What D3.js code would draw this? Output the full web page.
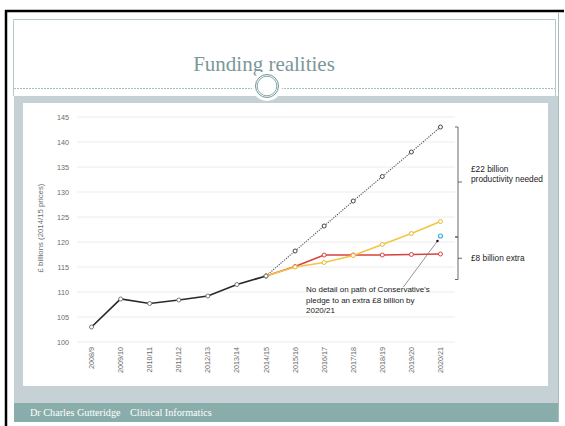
<!DOCTYPE html>
<html>
<head>
<meta charset="utf-8">
<script src="https://cdn.jsdelivr.net/npm/d3@7"></script>
<style>
  body { margin: 0; background: #fff; }
  svg { display: block; }
</style>
</head>
<body>
<svg id="slide" width="565" height="426"></svg>
<script>
var years = ["2008/9", "2009/10", "2010/11", "2011/12", "2012/13", "2013/14", "2014/15",
    "2015/16", "2016/17", "2017/18", "2018/19", "2019/20", "2020/21"];
var actual = [103.0, 108.6, 107.7, 108.4, 109.2, 111.5, 113.2];
var projYears = years.slice(6);
var needed = [113.2, 118.2, 123.2, 128.2, 133.1, 138.0, 143.0];
var extraRed = [113.2, 115.1, 117.4, 117.4, 117.4, 117.5, 117.6];
var extraYellow = [113.2, 115.0, 115.9, 117.3, 119.5, 121.7, 124.1];
var pledgePoint = {year: "2020/21", value: 121.2};
var yTicks = [100, 105, 110, 115, 120, 125, 130, 135, 140, 145];
var brackets = [
    {from: 143.0, to: 121.0, lines: ["£22 billion", "productivity needed"]},
    {from: 121.0, to: 112.5, lines: ["£8 billion extra"]}
];
var noteLines = ["No detail on path of Conservative's", "pledge to an extra £8 billion by", "2020/21"];

var svg = d3.select('#slide');

// slide frame
svg.append('rect').attr('x', 8).attr('y', 12).attr('width', 550).attr('height', 414).attr('fill', '#fff');
svg.append('line').attr('x1', 6).attr('x2', 6).attr('y1', 10).attr('y2', 426)
    .attr('stroke', '#000').attr('stroke-width', 2.5);
svg.append('line').attr('x1', 5).attr('x2', 564).attr('y1', 11).attr('y2', 11)
    .attr('stroke', '#000').attr('stroke-width', 2.5);
svg.append('line').attr('x1', 558.5).attr('x2', 558.5).attr('y1', 12).attr('y2', 422)
    .attr('stroke', '#a9bcbc').attr('stroke-width', 1);
svg.append('path').attr('d', 'M13.5,96V19.5H555.5V96')
    .attr('fill', 'none').attr('stroke', '#b7c8c8').attr('stroke-width', 1);

// grey band + chart panel
svg.append('rect').attr('x', 14).attr('y', 96).attr('width', 544).attr('height', 308).attr('fill', '#c6d1d6');
svg.append('rect').attr('x', 23).attr('y', 103).attr('width', 525).attr('height', 283).attr('fill', '#fff');

// footer
svg.append('rect').attr('x', 14).attr('y', 403).attr('width', 544).attr('height', 19).attr('fill', '#88adab');
svg.append('text').attr('x', 30).attr('y', 416)
    .attr('font-family', 'Liberation Serif, serif').attr('font-size', 10.2).attr('fill', '#fff')
    .text('Dr Charles Gutteridge');
svg.append('text').attr('x', 130).attr('y', 416)
    .attr('font-family', 'Liberation Serif, serif').attr('font-size', 10.2).attr('fill', '#fff')
    .text('Clinical Informatics');

// title and divider
svg.append('text').attr('x', 264).attr('y', 71).attr('text-anchor', 'middle')
    .attr('font-family', 'Liberation Serif, serif').attr('font-size', 21).attr('fill', '#7a9799')
    .text('Funding realities');
svg.append('line').attr('x1', 14).attr('x2', 555).attr('y1', 88.5).attr('y2', 88.5)
    .attr('stroke', '#8fb0b0').attr('stroke-width', 0.8).attr('stroke-dasharray', '2,1');
svg.append('circle').attr('cx', 267).attr('cy', 86).attr('r', 15).attr('fill', '#fff');
svg.append('circle').attr('cx', 267).attr('cy', 86).attr('r', 11.5)
    .attr('fill', '#fff').attr('stroke', '#6f9494').attr('stroke-width', 1);
svg.append('circle').attr('cx', 267).attr('cy', 86).attr('r', 9.8)
    .attr('fill', 'none').attr('stroke', '#6f9494').attr('stroke-width', 0.8);

// chart
var x = d3.scalePoint().domain(years).range([77, 455]).padding(0.5);
var y = d3.scaleLinear().domain([100, 145]).range([342, 117]);

var chart = svg.append('g').attr('class', 'chart');

chart.selectAll('line.grid').data(yTicks).enter().append('line')
    .attr('class', 'grid')
    .attr('x1', 77).attr('x2', 455)
    .attr('y1', function (d) { return y(d); })
    .attr('y2', function (d) { return y(d); })
    .attr('stroke', '#ececec').attr('stroke-width', 1);

chart.selectAll('text.ytick').data(yTicks).enter().append('text')
    .attr('class', 'ytick')
    .attr('x', 69)
    .attr('y', function (d) { return y(d) + 2.5; })
    .attr('text-anchor', 'end')
    .attr('font-family', 'Liberation Sans, Arial, sans-serif').attr('font-size', 7.2)
    .attr('fill', '#6a6a6a')
    .text(function (d) { return d; });

chart.selectAll('text.xtick').data(years).enter().append('text')
    .attr('class', 'xtick')
    .attr('transform', function (d) { return 'translate(' + (x(d) + 2.5) + ',347) rotate(-90)'; })
    .attr('text-anchor', 'end')
    .attr('font-family', 'Liberation Sans, Arial, sans-serif').attr('font-size', 7.2)
    .attr('fill', '#6a6a6a')
    .text(function (d) { return d; });

chart.append('text')
    .attr('transform', 'translate(43,228) rotate(-90)')
    .attr('text-anchor', 'middle')
    .attr('font-family', 'Liberation Sans, Arial, sans-serif').attr('font-size', 7.8)
    .attr('fill', '#6a6a6a')
    .text('£ billions (2014/15 prices)');

var line = d3.line()
    .x(function (d) { return x(d[0]); })
    .y(function (d) { return y(d[1]); });

function series(cats, vals, color, width, dash, ptColor) {
    var pts = cats.map(function (c, i) { return [c, vals[i]]; });
    chart.append('path').datum(pts)
        .attr('d', line)
        .attr('fill', 'none')
        .attr('stroke', color)
        .attr('stroke-width', width)
        .attr('stroke-dasharray', dash);
    chart.selectAll(null).data(pts).enter().append('circle')
        .attr('cx', function (d) { return x(d[0]); })
        .attr('cy', function (d) { return y(d[1]); })
        .attr('r', 2)
        .attr('fill', '#fff')
        .attr('stroke', ptColor)
        .attr('stroke-width', 1);
}

series(projYears, needed, '#555', 1.1, '1.2,1.2', '#444');
series(projYears, extraRed, '#d8413f', 1.6, null, '#d8413f');
series(projYears, extraYellow, '#f4c443', 1.6, null, '#e9b830');
series(years.slice(0, 7), actual, '#2a2a2a', 1.7, null, '#777');

chart.append('circle')
    .attr('cx', x(pledgePoint.year))
    .attr('cy', y(pledgePoint.value))
    .attr('r', 2)
    .attr('fill', '#fff')
    .attr('stroke', '#3cb0dc')
    .attr('stroke-width', 1.2);

// pointer for note
var px = x(pledgePoint.year) - 3, py = y(pledgePoint.value - 1.0);
chart.append('line')
    .attr('x1', px).attr('y1', py)
    .attr('x2', x("2019/20") - 8).attr('y2', y(111.0))
    .attr('stroke', '#777').attr('stroke-width', 0.8);
chart.append('circle').attr('cx', px).attr('cy', py).attr('r', 1.2).attr('fill', '#111');

chart.selectAll('text.note').data(noteLines).enter().append('text')
    .attr('class', 'note')
    .attr('x', 306)
    .attr('y', function (d, i) { return 292 + i * 10.5; })
    .attr('font-family', 'Liberation Sans, Arial, sans-serif').attr('font-size', 8)
    .attr('fill', '#1a1a1a')
    .text(function (d) { return d; });

// brackets
var bx = 458;
brackets.forEach(function (b) {
    var y0 = y(b.from), y1 = y(b.to), ym = (y0 + y1) / 2;
    chart.append('path')
        .attr('d', 'M' + (bx - 3) + ',' + y0 + 'H' + bx + 'V' + y1 + 'H' + (bx - 3) +
            'M' + bx + ',' + ym + 'H' + (bx + 4))
        .attr('fill', 'none').attr('stroke', '#444').attr('stroke-width', 0.8);
    var t = chart.append('text')
        .attr('x', 471)
        .attr('y', ym + 3 - (b.lines.length - 1) * 10 / 2 - (b.lines.length > 1 ? 8 : 0))
        .attr('font-family', 'Liberation Sans, Arial, sans-serif').attr('font-size', 8.3)
        .attr('fill', '#1a1a1a');
    b.lines.forEach(function (l, i) {
        t.append('tspan').attr('x', 471).attr('dy', i === 0 ? 0 : 10).text(l);
    });
});
</script>
</body>
</html>
